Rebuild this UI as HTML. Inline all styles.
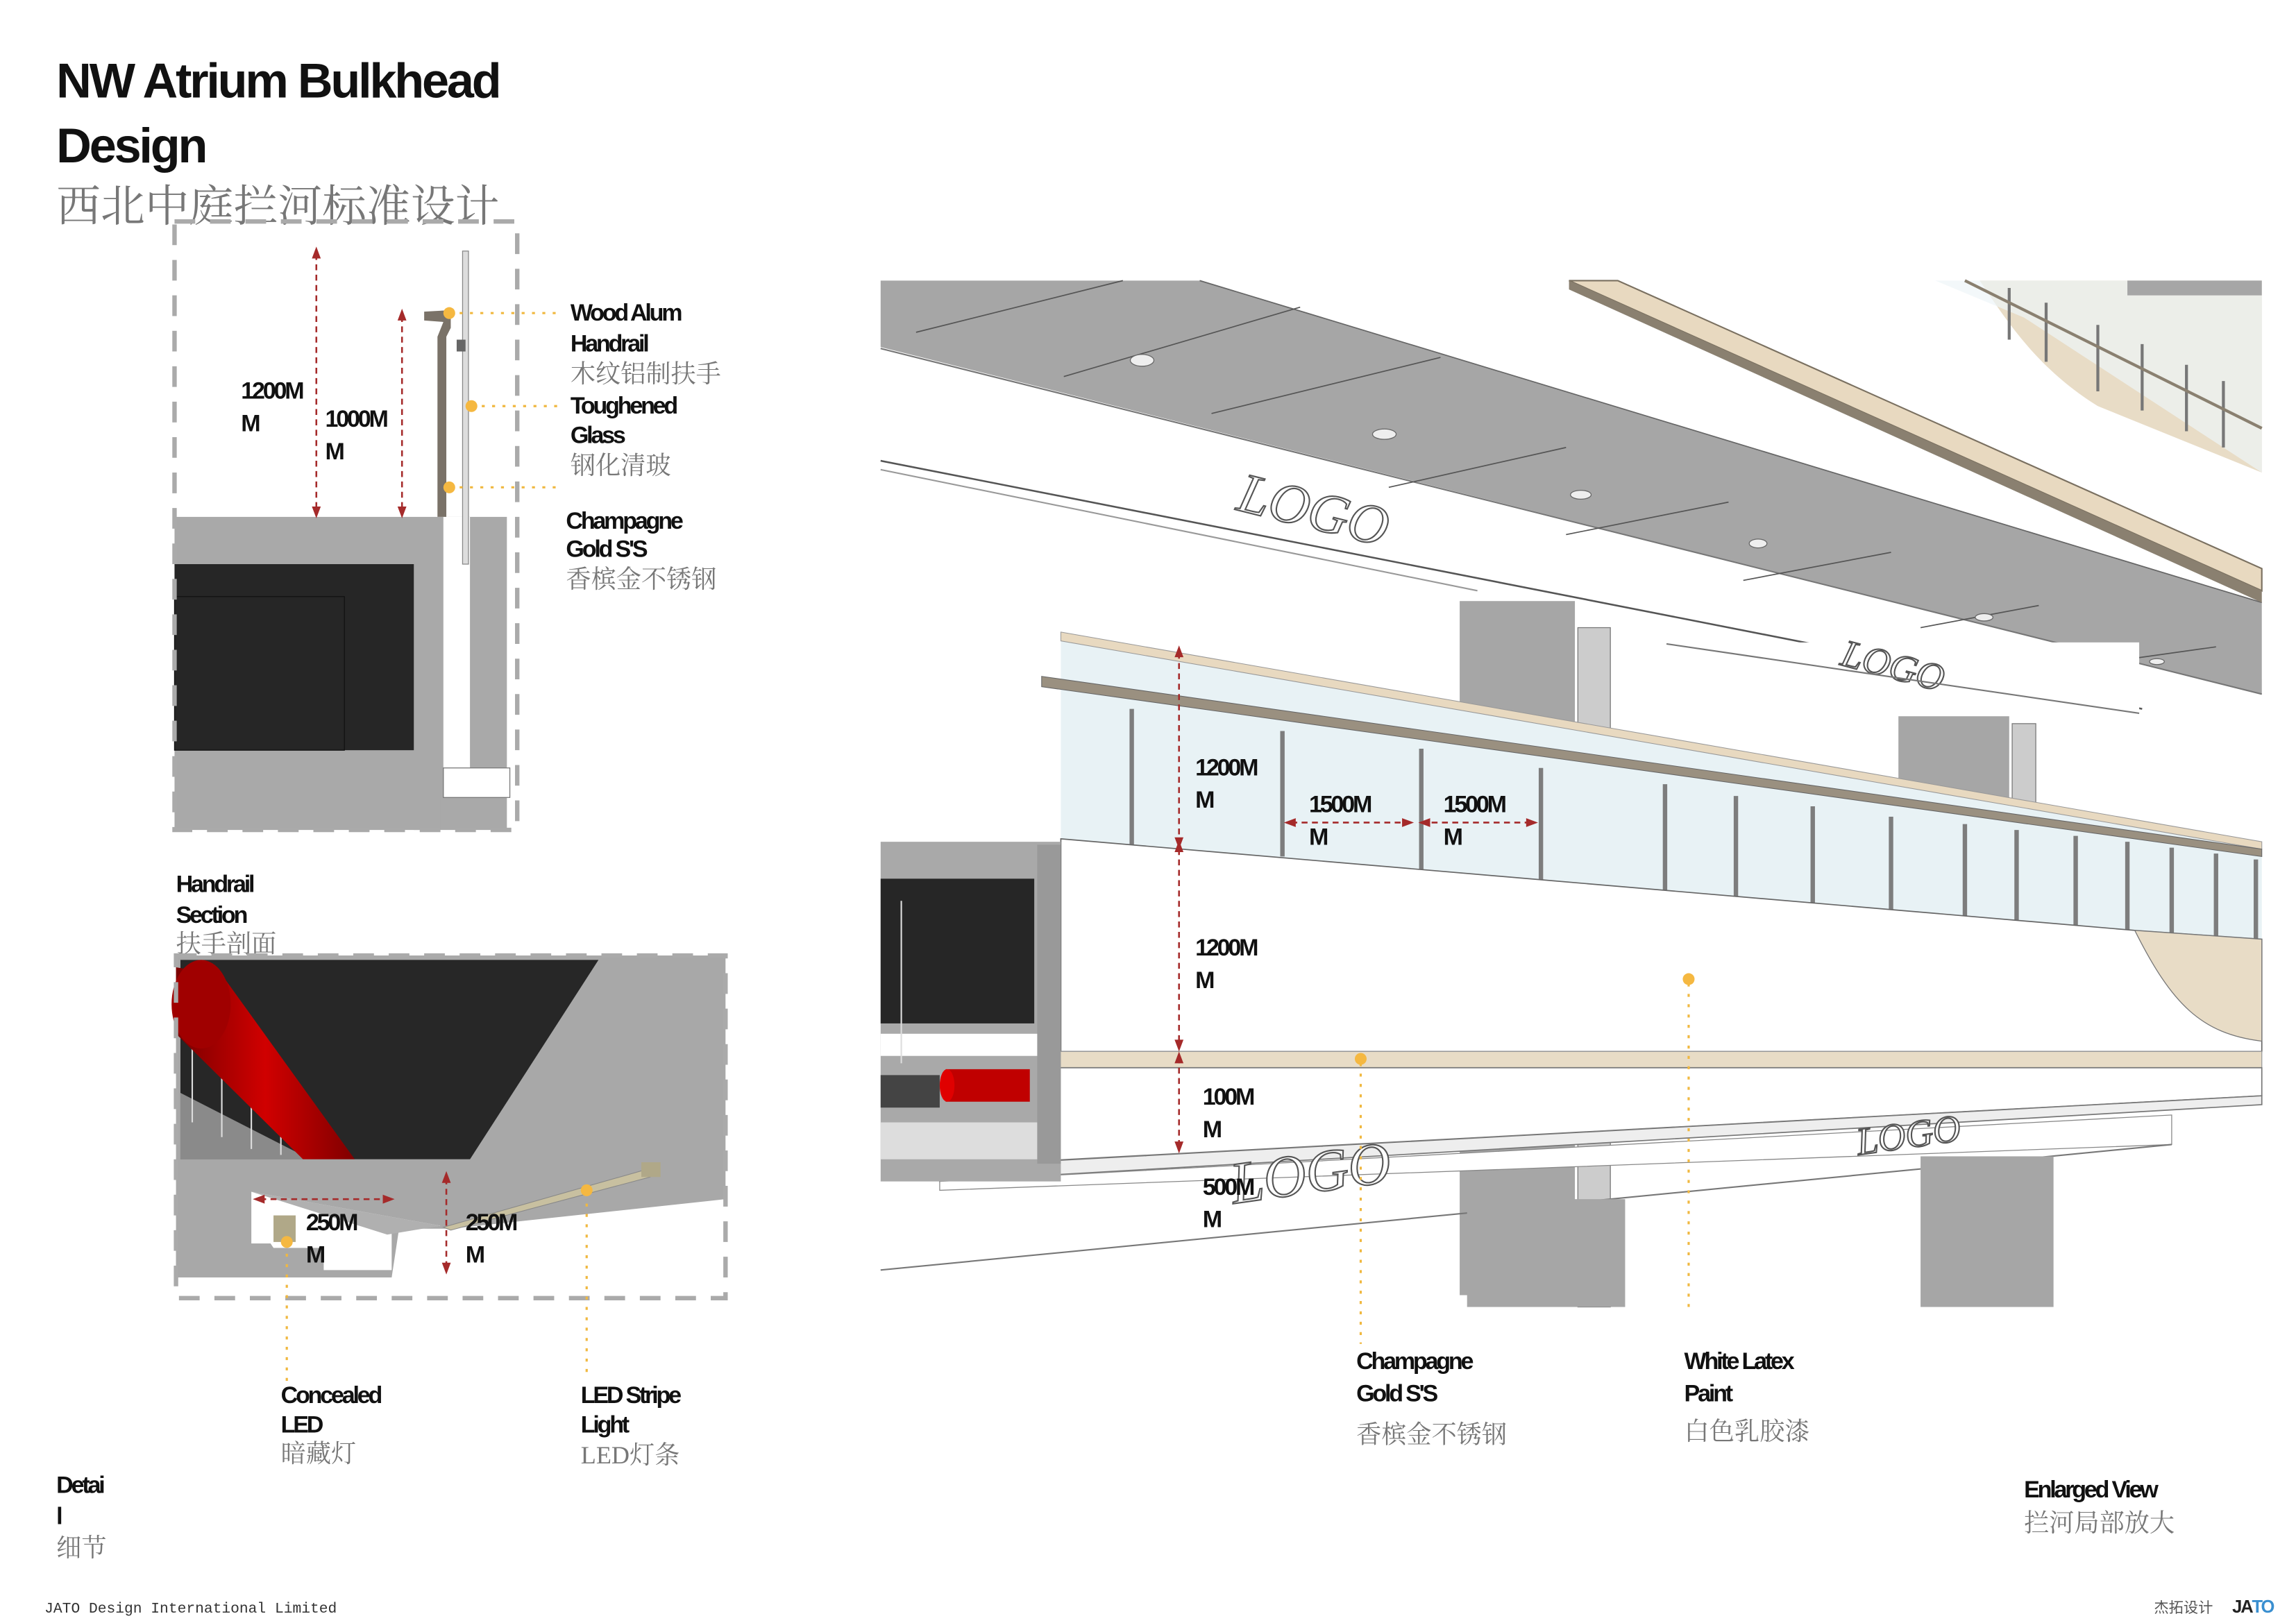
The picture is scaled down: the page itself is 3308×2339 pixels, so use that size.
<!DOCTYPE html>
<html><head><meta charset="utf-8"><style>
html,body{margin:0;padding:0;background:#fff;}
svg{display:block;}
.b{font-family:"Liberation Sans",sans-serif;font-weight:bold;fill:#111;letter-spacing:-1.5px;}
.c{font-family:"Liberation Serif","Noto Serif CJK SC",serif;fill:#777;}
.lg{font-family:"Liberation Serif",serif;font-style:italic;fill:#fff;stroke:#555;stroke-width:1;}
</style></head><body>
<svg width="3308" height="2339" viewBox="0 0 1554 1099" xmlns="http://www.w3.org/2000/svg">
<rect width="1554" height="1099" fill="#fff"/>
<!-- Title -->
<text class="b" x="38" y="66" font-size="33" letter-spacing="-3.4">NW Atrium Bulkhead</text>
<text class="b" x="38" y="110" font-size="33" letter-spacing="-3.4">Design</text>
<text class="c" x="38" y="150" font-size="30" fill="#999">西北中庭拦河标准设计</text>

<!-- Top-left section -->
<rect x="118" y="350" width="225" height="212" fill="#a9a9a9"/>
<rect x="118" y="382" width="162" height="126" fill="#262626"/>
<rect x="118" y="404" width="115" height="104" fill="none" stroke="#111" stroke-width="0.6"/>
<rect x="300" y="350" width="18" height="190" fill="#fff"/>
<rect x="300" y="520" width="45" height="20" fill="#fff" stroke="#777" stroke-width="0.6"/>
<rect x="280" y="535" width="18" height="27" fill="#a9a9a9"/>
<rect x="313" y="170" width="4" height="212" fill="#ddd" stroke="#888" stroke-width="0.6"/>
<path d="M287,211 L305,210 L305,222 L302,228 L302,350 L296,350 L296,228 L300,218 L287,217 Z" fill="#7a7268"/>
<rect x="309" y="230" width="6" height="8" fill="#666"/>
<rect x="118" y="150" width="232" height="412" fill="none" stroke="#aaa" stroke-width="3" stroke-dasharray="14 10"/>
<g stroke="#a52a2a" stroke-width="1.2" stroke-dasharray="4 3"><line x1="214" y1="172" x2="214" y2="346"/><line x1="272" y1="214" x2="272" y2="346"/></g>
<g fill="#a52a2a"><path d="M214,167 l-3,8 h6z"/><path d="M214,351 l-3,-8 h6z"/><path d="M272,209 l-3,8 h6z"/><path d="M272,351 l-3,-8 h6z"/></g>
<g stroke="#f0b840" stroke-width="1.5" stroke-dasharray="2 5"><line x1="304" y1="212" x2="378" y2="212"/><line x1="319" y1="275" x2="378" y2="275"/><line x1="304" y1="330" x2="378" y2="330"/></g>
<g fill="#f5b841"><circle cx="304" cy="212" r="4"/><circle cx="319" cy="275" r="4"/><circle cx="304" cy="330" r="4"/></g>
<text class="b" x="163" y="270" font-size="16">1200M</text><text class="b" x="163" y="292" font-size="16">M</text>
<text class="b" x="220" y="289" font-size="16">1000M</text><text class="b" x="220" y="311" font-size="16">M</text>
<text class="b" x="386" y="217" font-size="16">Wood Alum</text>
<text class="b" x="386" y="238" font-size="16">Handrail</text>
<text class="c" x="386" y="259" font-size="17">木纹铝制扶手</text>
<text class="b" x="386" y="280" font-size="16">Toughened</text>
<text class="b" x="386" y="300" font-size="16">Glass</text>
<text class="c" x="386" y="321" font-size="17">钢化清玻</text>
<text class="b" x="383" y="358" font-size="16">Champagne</text>
<text class="b" x="383" y="377" font-size="16">Gold S'S</text>
<text class="c" x="383" y="398" font-size="17">香槟金不锈钢</text>

<!-- Lower-left detail -->
<text class="b" x="119" y="604" font-size="16">Handrail</text>
<text class="b" x="119" y="625" font-size="16">Section</text>
<text class="c" x="119" y="645" font-size="17">扶手剖面</text>
<rect x="119" y="647" width="372" height="140" fill="#a8a8a8"/>
<path d="M122,650 L405,650 L318,785 L122,785 Z" fill="#272727"/>
<path d="M122,740 L210,785 L122,785 Z" fill="#8a8a8a"/>
<g stroke="#ddd" stroke-width="1"><line x1="130" y1="700" x2="130" y2="760"/><line x1="150" y1="720" x2="150" y2="770"/><line x1="170" y1="735" x2="170" y2="778"/><line x1="190" y1="748" x2="190" y2="782"/></g>
<defs><linearGradient id="rg" x1="0" y1="0" x2="1" y2="0"><stop offset="0" stop-color="#7a0000"/><stop offset="0.5" stop-color="#d00000"/><stop offset="1" stop-color="#800000"/></linearGradient></defs>
<path d="M119,655 L150,660 L240,785 L205,785 L119,700 Z" fill="url(#rg)"/>
<ellipse cx="136" cy="680" rx="20" ry="30" fill="#a00000"/>
<path d="M119,785 L491,785 L491,812 L305,832 L270,832 L265,865 L119,865 Z" fill="#a8a8a8"/>
<path d="M170,807 L298,830 L265,835 L265,860 L195,860 L183,842 L170,842 Z" fill="#fff"/>
<path d="M170,807 L298,830 L262,836 Z" fill="#b0b0b0"/>
<rect x="185" y="823" width="15" height="18" fill="#b0a888"/>
<rect x="119" y="845" width="100" height="20" fill="#a8a8a8"/>
<path d="M300,831 L437,792 L440,797 L305,833 Z" fill="#c8c0a0" stroke="#888" stroke-width="0.5"/>
<rect x="434" y="787" width="13" height="10" fill="#b0a888"/>
<rect x="119" y="647" width="372" height="232" fill="none" stroke="#aaa" stroke-width="3" stroke-dasharray="14 10"/>
<g stroke="#a52a2a" stroke-width="1.2" stroke-dasharray="4 3"><line x1="176" y1="812" x2="262" y2="812"/><line x1="302" y1="798" x2="302" y2="858"/></g>
<g fill="#a52a2a"><path d="M171,812 l8,-3 v6z"/><path d="M267,812 l-8,-3 v6z"/><path d="M302,793 l-3,8 h6z"/><path d="M302,863 l-3,-8 h6z"/></g>
<g stroke="#f0b840" stroke-width="1.5" stroke-dasharray="2 5"><line x1="194" y1="842" x2="194" y2="935"/><line x1="397" y1="808" x2="397" y2="930"/></g>
<g fill="#f5b841"><circle cx="194" cy="841" r="4"/><circle cx="397" cy="806" r="4"/></g>
<text class="b" x="207" y="833" font-size="16">250M</text><text class="b" x="207" y="855" font-size="16">M</text>
<text class="b" x="315" y="833" font-size="16">250M</text><text class="b" x="315" y="855" font-size="16">M</text>
<text class="b" x="190" y="950" font-size="16">Concealed</text>
<text class="b" x="190" y="970" font-size="16">LED</text>
<text class="c" x="190" y="990" font-size="17">暗藏灯</text>
<text class="b" x="393" y="950" font-size="16">LED Stripe</text>
<text class="b" x="393" y="970" font-size="16">Light</text>
<text class="c" x="393" y="991" font-size="17">LED灯条</text>
<text class="b" x="38" y="1011" font-size="16">Detai</text>
<text class="b" x="38" y="1032" font-size="16">l</text>
<text class="c" x="38" y="1054" font-size="17">细节</text>

<!-- Right enlarged view -->
<g>
<!-- ceiling underside -->
<path d="M596,190 L812,190 L1531,408 L1531,470 L596,235 Z" fill="#a6a6a6"/>
<path d="M812,190 L1062,190 L1531,398 L1531,408 Z" fill="#fff"/>
<line x1="812" y1="190" x2="1531" y2="408" stroke="#666" stroke-width="0.8"/>
<line x1="596" y1="312" x2="1450" y2="480" stroke="#555" stroke-width="1.2"/>
<line x1="596" y1="318" x2="1000" y2="400" stroke="#999" stroke-width="1"/>
<line x1="596" y1="236" x2="1531" y2="470" stroke="#777" stroke-width="1"/>
<g stroke="#555" stroke-width="0.8">
<line x1="620" y1="225" x2="760" y2="190"/><line x1="720" y1="255" x2="880" y2="208"/><line x1="820" y1="280" x2="975" y2="242"/>
<line x1="940" y1="330" x2="1060" y2="303"/><line x1="1060" y1="362" x2="1170" y2="340"/><line x1="1180" y1="393" x2="1280" y2="374"/><line x1="1300" y1="425" x2="1380" y2="410"/><line x1="1400" y1="452" x2="1500" y2="438"/>
</g>
<g fill="#eee" stroke="#666" stroke-width="0.6"><ellipse cx="773" cy="244" rx="8" ry="4"/><ellipse cx="937" cy="294" rx="8" ry="3.5"/><ellipse cx="1070" cy="335" rx="7" ry="3"/><ellipse cx="1190" cy="368" rx="6" ry="3"/><ellipse cx="1343" cy="418" rx="6" ry="2.5"/><ellipse cx="1460" cy="448" rx="5" ry="2"/></g>
<!-- beige beam -->
<path d="M1062,190 L1095,190 L1531,385 L1531,400 Z" fill="#e8d9c0" stroke="#7a7060" stroke-width="1"/>
<path d="M1062,190 L1531,400 L1531,408 L1062,196 Z" fill="#8a8070"/>
<!-- upper balcony -->
<path d="M1340,190 L1531,190 L1531,320 L1420,275 C1380,250 1360,220 1340,190 Z" fill="#e8dcc6"/>
<path d="M1310,190 L1531,190 L1531,320 L1370,215 Z" fill="#eef5f8" opacity="0.7"/>
<g stroke="#777" stroke-width="2"><line x1="1360" y1="195" x2="1360" y2="230"/><line x1="1385" y1="205" x2="1385" y2="245"/><line x1="1420" y1="220" x2="1420" y2="265"/><line x1="1450" y1="233" x2="1450" y2="278"/><line x1="1480" y1="247" x2="1480" y2="292"/><line x1="1505" y1="258" x2="1505" y2="303"/></g>
<line x1="1330" y1="190" x2="1531" y2="290" stroke="#8a8070" stroke-width="2"/>
<rect x="1440" y="190" width="91" height="10" fill="#a6a6a6"/>
<!-- columns -->
<rect x="988" y="407" width="78" height="470" fill="#a6a6a6"/>
<rect x="1068" y="425" width="22" height="460" fill="#ccc" stroke="#777" stroke-width="0.6"/>
<rect x="1285" y="476" width="75" height="150" fill="#a6a6a6"/>
<rect x="1362" y="490" width="16" height="140" fill="#ccc" stroke="#777" stroke-width="0.6"/>
<rect x="1128" y="435" width="320" height="50" fill="#fff"/>
<text class="lg" x="1245" y="450" font-size="26" transform="rotate(15 1245 450)">LOGO</text>
<line x1="1128" y1="436" x2="1448" y2="483" stroke="#777" stroke-width="1"/>
<text class="lg" x="836" y="345" font-size="38" transform="rotate(14 836 345)">LOGO</text>
<!-- glass -->
<path d="M718,428 L1531,570 L1531,640 L718,572 Z" fill="#e8f2f5"/>
<path d="M718,428 L1531,570 L1531,575 L718,434 Z" fill="#e8d9c0" stroke="#999" stroke-width="0.5"/>
<path d="M705,458 L1531,575 L1531,580 L705,465 Z" fill="#9a9080" stroke="#666" stroke-width="0.5"/>
<g stroke="#7d7d7d" stroke-width="3">
<line x1="766" y1="480" x2="766" y2="573"/><line x1="868" y1="495" x2="868" y2="580"/><line x1="962" y1="507" x2="962" y2="590"/><line x1="1043" y1="520" x2="1043" y2="598"/><line x1="1127" y1="531" x2="1127" y2="605"/><line x1="1175" y1="539" x2="1175" y2="610"/><line x1="1227" y1="546" x2="1227" y2="615"/><line x1="1280" y1="553" x2="1280" y2="620"/><line x1="1330" y1="558" x2="1330" y2="625"/><line x1="1365" y1="562" x2="1365" y2="628"/><line x1="1405" y1="566" x2="1405" y2="630"/><line x1="1440" y1="570" x2="1440" y2="632"/><line x1="1470" y1="574" x2="1470" y2="634"/><line x1="1500" y1="578" x2="1500" y2="636"/><line x1="1527" y1="582" x2="1527" y2="638"/>
</g>
<!-- bulkhead face -->
<path d="M718,568 L1445,630 L1531,636 L1531,712 L718,712 Z" fill="#fff" stroke="#666" stroke-width="0.8"/>
<path d="M1445,630 L1531,636 L1531,705 C1490,700 1470,680 1445,630 Z" fill="#e8dcc6" stroke="#777" stroke-width="0.6"/>
<rect x="706" y="712" width="825" height="11" fill="#e8dcc6" stroke="#999" stroke-width="0.6"/>
<path d="M706,723 L1531,723 L1531,742 L706,786 Z" fill="#fff" stroke="#777" stroke-width="0.8"/>
<path d="M636,790 L1531,742 L1531,748 L636,800 Z" fill="#eee" stroke="#777" stroke-width="0.8"/>
<path d="M636,800 L1470,755 L1470,775 L636,806 Z" fill="#fff" stroke="#888" stroke-width="0.6"/>
<line x1="596" y1="860" x2="1470" y2="775" stroke="#777" stroke-width="1"/>
<rect x="993" y="812" width="107" height="73" fill="#a6a6a6"/>
<rect x="1300" y="783" width="90" height="102" fill="#a6a6a6"/>
<text class="lg" x="835" y="815" font-size="40" transform="rotate(-8 835 815)">LOGO</text>
<text class="lg" x="1258" y="782" font-size="26" transform="rotate(-8 1258 782)">LOGO</text>
<!-- left cut -->
<rect x="596" y="570" width="122" height="230" fill="#a9a9a9"/>
<rect x="596" y="595" width="104" height="98" fill="#262626"/>
<rect x="596" y="700" width="110" height="15" fill="#fff"/>
<rect x="596" y="728" width="40" height="22" fill="#444"/>
<rect x="640" y="724" width="57" height="22" fill="#c00000"/>
<ellipse cx="641" cy="735" rx="5" ry="11" fill="#e00000"/>
<rect x="596" y="760" width="110" height="25" fill="#ddd"/>
<line x1="610" y1="610" x2="610" y2="720" stroke="#ddd" stroke-width="1"/>
<rect x="702" y="572" width="16" height="216" fill="#999"/>
</g>
<!-- dims right -->
<g stroke="#a52a2a" stroke-width="1.2" stroke-dasharray="4 3"><line x1="798" y1="442" x2="798" y2="708"/><line x1="798" y1="716" x2="798" y2="777"/><line x1="874" y1="557" x2="952" y2="557"/><line x1="962" y1="557" x2="1037" y2="557"/></g>
<g fill="#a52a2a"><path d="M798,437 l-3,8 h6z"/><path d="M798,575 l-3,-8 h6z"/><path d="M798,569 l-3,8 h6z"/><path d="M798,712 l-3,-8 h6z"/><path d="M798,712 l-3,8 h6z"/><path d="M798,781 l-3,-8 h6z"/><path d="M869,557 l8,-3 v6z"/><path d="M957,557 l-8,-3 v6z"/><path d="M960,557 l8,-3 v6z"/><path d="M1041,557 l-8,-3 v6z"/></g>
<text class="b" x="809" y="525" font-size="16">1200M</text><text class="b" x="809" y="547" font-size="16">M</text>
<text class="b" x="886" y="550" font-size="16">1500M</text><text class="b" x="886" y="572" font-size="16">M</text>
<text class="b" x="977" y="550" font-size="16">1500M</text><text class="b" x="977" y="572" font-size="16">M</text>
<text class="b" x="809" y="647" font-size="16">1200M</text><text class="b" x="809" y="669" font-size="16">M</text>
<text class="b" x="814" y="748" font-size="16">100M</text><text class="b" x="814" y="770" font-size="16">M</text>
<text class="b" x="814" y="809" font-size="16">500M</text><text class="b" x="814" y="831" font-size="16">M</text>
<g stroke="#f0b840" stroke-width="1.5" stroke-dasharray="2 5"><line x1="921" y1="720" x2="921" y2="910"/><line x1="1143" y1="666" x2="1143" y2="885"/></g>
<g fill="#f5b841"><circle cx="921" cy="717" r="4"/><circle cx="1143" cy="663" r="4"/></g>
<text class="b" x="918" y="927" font-size="16">Champagne</text>
<text class="b" x="918" y="949" font-size="16">Gold S'S</text>
<text class="c" x="918" y="977" font-size="17">香槟金不锈钢</text>
<text class="b" x="1140" y="927" font-size="16">White Latex</text>
<text class="b" x="1140" y="949" font-size="16">Paint</text>
<text class="c" x="1140" y="975" font-size="17">白色乳胶漆</text>
<text class="b" x="1370" y="1014" font-size="16">Enlarged View</text>
<text class="c" x="1370" y="1037" font-size="17">拦河局部放大</text>
<!-- footer -->
<text x="30" y="1092" font-size="10" font-family="Liberation Mono,monospace" fill="#333">JATO Design International Limited</text>
<text x="1458" y="1092" font-size="10" font-family="Liberation Sans,'Noto Sans CJK SC',sans-serif" fill="#555">杰拓设计</text>
<text x="1511" y="1092" font-size="12" font-family="Liberation Sans,sans-serif" font-weight="bold" fill="#222" letter-spacing="-1">JA<tspan fill="#3a8fd0">TO</tspan></text>
</svg>
</body></html>
